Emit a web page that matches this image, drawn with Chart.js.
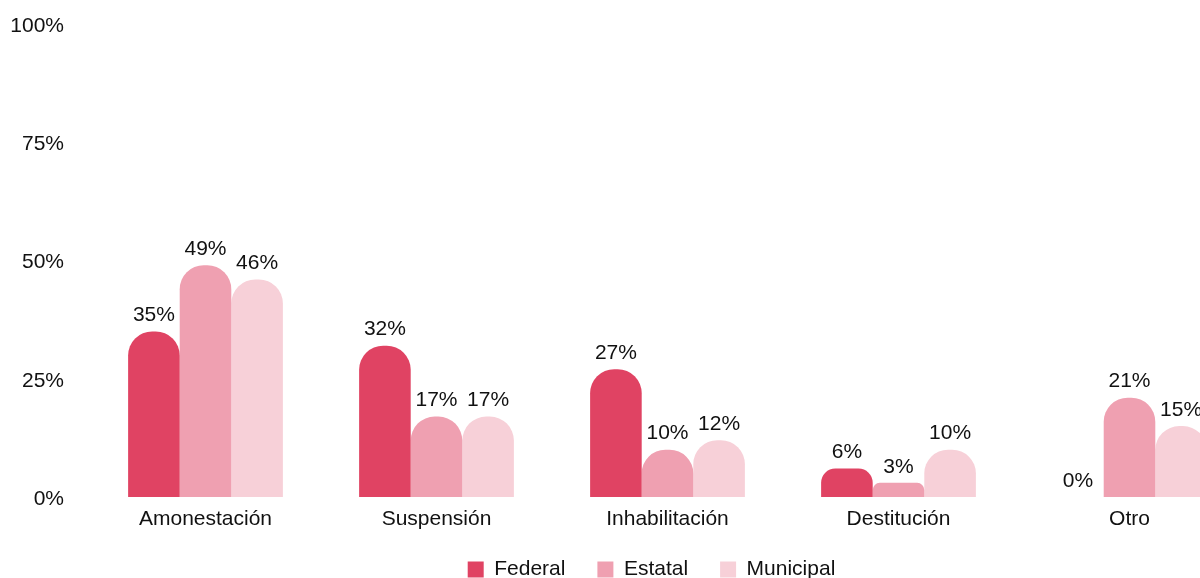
<!DOCTYPE html>
<html>
<head>
<meta charset="utf-8">
<script src="https://cdn.jsdelivr.net/npm/chart.js@4"></script>
<style>
  html, body { margin: 0; padding: 0; background: #fff; overflow: hidden; }
  #wrap { position: absolute; left: 0; top: 0; width: 1302px; height: 597px; }
</style>
</head>
<body>
<div id="wrap"><canvas id="chart"></canvas></div>
<script>
// sanction types and share by government level
const categories = ['Amonestación', 'Suspensión', 'Inhabilitación', 'Destitución', 'Otro'];
const federal = [35, 32, 27, 6, 0];
const estatal = [49, 17, 10, 3, 21];
const municipal = [46, 17, 12, 10, 15];
const yTicks = [0, 25, 50, 75, 100];

const COLORS = {
    federal: '#e04363',
    estatal: '#efa0b1',
    municipal: '#f7d0d8',
    text: '#111111'
};

const FONT = '"Liberation Sans", Arial, Helvetica, sans-serif';
Chart.defaults.font.family = FONT;
Chart.defaults.font.size = 21;
Chart.defaults.color = COLORS.text;

// draws the value above each bar
const valueLabels = {
    id: 'valueLabels',
    afterDatasetsDraw(chart) {
        const ctx = chart.ctx;
        ctx.save();
        ctx.font = '21px ' + FONT;
        ctx.fillStyle = COLORS.text;
        ctx.textAlign = 'center';
        ctx.textBaseline = 'middle';
        chart.data.datasets.forEach((ds, i) => {
            const meta = chart.getDatasetMeta(i);
            meta.data.forEach((bar, j) => {
                ctx.fillText(ds.data[j] + '%', bar.x, bar.y - 16);
            });
        });
        ctx.restore();
    }
};

// legend sits a bit right of the plot-area centre and closer to the axis labels
const legendShift = {
    id: 'legendShift',
    afterLayout(chart) {
        const lg = chart.legend;
        lg.left += 24;
        lg.right += 24;
        lg.top -= 7;
        lg.bottom -= 7;
    }
};

const barStyle = { borderRadius: 24, borderSkipped: 'bottom', categoryPercentage: 0.67, barPercentage: 1.0 };

new Chart(document.getElementById('chart'), {
    type: 'bar',
    data: {
        labels: categories,
        datasets: [
            Object.assign({ label: 'Federal', data: federal, backgroundColor: COLORS.federal }, barStyle),
            Object.assign({ label: 'Estatal', data: estatal, backgroundColor: COLORS.estatal }, barStyle),
            Object.assign({ label: 'Municipal', data: municipal, backgroundColor: COLORS.municipal }, barStyle)
        ]
    },
    options: {
        responsive: true,
        maintainAspectRatio: false,
        animation: false,
        layout: { autoPadding: false, padding: { left: 10, right: 57, top: 24, bottom: 0 } },
        scales: {
            x: {
                grid: { display: false, drawTicks: false },
                border: { display: false },
                ticks: { padding: 10 },
                afterFit: (axis) => { axis.height = 37; }
            },
            y: {
                min: 0,
                max: 100,
                afterBuildTicks: (axis) => { axis.ticks = yTicks.map(v => ({ value: v })); },
                afterFit: (axis) => {
                    axis.width = 80;
                    axis.paddingTop = 0;
                    axis.paddingBottom = 0;
                },
                grid: { display: false, drawTicks: false },
                border: { display: false },
                ticks: { padding: 26, labelOffset: 2, callback: (v) => v + '%' }
            }
        },
        plugins: {
            legend: {
                position: 'bottom',
                labels: { boxWidth: 16, boxHeight: 16, padding: 32 }
            },
            tooltip: { enabled: false }
        }
    },
    plugins: [valueLabels, legendShift]
});
</script>
</body>
</html>
